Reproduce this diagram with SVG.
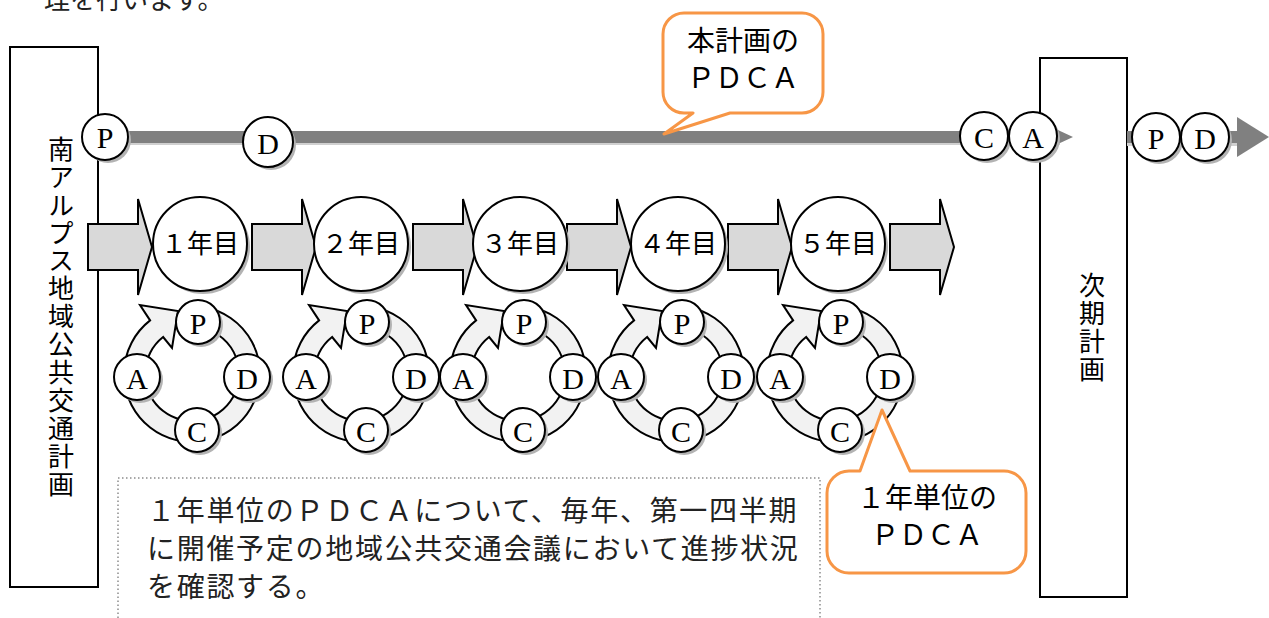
<svg xmlns="http://www.w3.org/2000/svg" width="1269" height="618" viewBox="0 0 1269 618">
<defs>
<style>
.box{fill:#fff;stroke:#000;stroke-width:2}
.vt{font-family:"Noto Sans CJK JP","Liberation Sans",sans-serif;font-size:26px;fill:#000;writing-mode:vertical-rl;letter-spacing:1.9px}
.sh{fill:#b3b3b3}
.cw{fill:#fff;stroke:#000;stroke-width:2}
.lt{font-family:"Liberation Serif","Noto Sans CJK JP",serif;font-size:30px;fill:#000;text-anchor:middle}
.yt{font-family:"Liberation Serif","Noto Sans CJK JP",serif;font-size:26px;fill:#000;text-anchor:middle}
.blk{fill:#d9d9d9;stroke:#000;stroke-width:2;stroke-linejoin:miter}
.ring{fill:#f2f2f2;stroke:#000;stroke-width:2;stroke-linejoin:miter}
.bub{fill:#fff;stroke:#F79646;stroke-width:3;stroke-linejoin:round}
.bt{font-family:"Liberation Serif","Noto Sans CJK JP",serif;font-size:28px;fill:#000;text-anchor:middle}
.body{font-family:"Noto Sans CJK JP","Liberation Sans",sans-serif;font-size:28px;fill:#222;letter-spacing:1.7px}
</style>
<path id="blockArrow" class="blk" d="M0,-23 H50 V-48 L64,0 L50,48 V23 H0 Z"/>
<path id="ringArrow" class="ring" d="M203.8,307 A68,68 0 1 1 150.1,320.4 L140,305 L178,311 L172,348 L163.1,337 A47,47 0 1 0 200.2,327.7 Z"/>
</defs>

<text x="44" y="9" style="font-family:'Noto Sans CJK JP',sans-serif;font-size:26px;fill:#222">理を行います。</text>

<g id="node-left-plan">
<rect class="box" x="10" y="47" width="88" height="540"/>
<text class="vt" x="61" y="136">南アルプス地域公共交通計画</text>
</g>

<g id="node-next-plan">
<rect class="box" x="1040" y="58" width="87" height="539"/>
<text class="vt" x="1092" y="272">次期計画</text>
</g>

<g id="connectors">
<rect x="98" y="142" width="962" height="3" fill="#d0d0d0"/>
<rect x="98" y="131" width="962" height="12" fill="#808080"/>
<path d="M1045,124 L1073,137 L1045,150 Z" fill="#808080"/>
<rect x="1127" y="143" width="112" height="3" fill="#d0d0d0"/>
<rect x="1127" y="131" width="112" height="12" fill="#808080"/>
<path d="M1237,117 L1269,137 L1237,157 Z" fill="#808080"/>
<use href="#blockArrow" x="88" y="247"/>
<use href="#blockArrow" x="252" y="247"/>
<use href="#blockArrow" x="413" y="247"/>
<use href="#blockArrow" x="567" y="247"/>
<use href="#blockArrow" x="728" y="247"/>
<use href="#blockArrow" x="890" y="247"/>
</g>

<g id="node-main-P"><circle class="sh" cx="108" cy="140" r="23"/><circle class="cw" cx="105" cy="137" r="23"/><text class="lt" x="105" y="148">P</text></g>
<g id="node-main-D"><circle class="sh" cx="271" cy="145" r="25"/><circle class="cw" cx="268" cy="142" r="25"/><text class="lt" x="268" y="154">D</text></g>
<g id="node-main-C"><circle class="sh" cx="987" cy="139" r="24"/><circle class="cw" cx="984" cy="136" r="24"/><text class="lt" x="984" y="148">C</text></g>
<g id="node-main-A"><circle class="sh" cx="1036" cy="139" r="24"/><circle class="cw" cx="1033" cy="136" r="24"/><text class="lt" x="1033" y="148">A</text></g>
<g id="node-next-P"><circle class="sh" cx="1159" cy="140" r="24"/><circle class="cw" cx="1156" cy="137" r="24"/><text class="lt" x="1156" y="149">P</text></g>
<g id="node-next-D"><circle class="sh" cx="1208" cy="140" r="24"/><circle class="cw" cx="1205" cy="137" r="24"/><text class="lt" x="1205" y="149">D</text></g>

<g id="node-year1"><circle class="sh" cx="203" cy="247" r="47"/><circle class="cw" cx="200" cy="244" r="47"/><text class="yt" x="200" y="253">１年目</text></g>
<g id="node-year2"><circle class="sh" cx="364" cy="247" r="47"/><circle class="cw" cx="361" cy="244" r="47"/><text class="yt" x="361" y="253">２年目</text></g>
<g id="node-year3"><circle class="sh" cx="523" cy="247" r="47"/><circle class="cw" cx="520" cy="244" r="47"/><text class="yt" x="520" y="253">３年目</text></g>
<g id="node-year4"><circle class="sh" cx="681" cy="247" r="47"/><circle class="cw" cx="678" cy="244" r="47"/><text class="yt" x="678" y="253">４年目</text></g>
<g id="node-year5"><circle class="sh" cx="841" cy="247" r="47"/><circle class="cw" cx="838" cy="244" r="47"/><text class="yt" x="838" y="253">５年目</text></g>

<g id="node-cycle1">
<use href="#ringArrow"/>
<g id="c1-P"><circle class="sh" cx="201" cy="325" r="22"/><circle class="cw" cx="198" cy="322" r="22"/><text class="lt" x="198" y="334">P</text></g>
<g id="c1-D"><circle class="sh" cx="250" cy="380" r="23"/><circle class="cw" cx="247" cy="377" r="23"/><text class="lt" x="247" y="389">D</text></g>
<g id="c1-C"><circle class="sh" cx="200" cy="433" r="22"/><circle class="cw" cx="197" cy="430" r="22"/><text class="lt" x="197" y="442">C</text></g>
<g id="c1-A"><circle class="sh" cx="140" cy="380" r="23"/><circle class="cw" cx="137" cy="377" r="23"/><text class="lt" x="137" y="389">A</text></g>
</g>
<g id="node-cycle2" transform="translate(169,0)">
<use href="#ringArrow"/>
<g id="c2-P"><circle class="sh" cx="201" cy="325" r="22"/><circle class="cw" cx="198" cy="322" r="22"/><text class="lt" x="198" y="334">P</text></g>
<g id="c2-D"><circle class="sh" cx="250" cy="380" r="23"/><circle class="cw" cx="247" cy="377" r="23"/><text class="lt" x="247" y="389">D</text></g>
<g id="c2-C"><circle class="sh" cx="200" cy="433" r="22"/><circle class="cw" cx="197" cy="430" r="22"/><text class="lt" x="197" y="442">C</text></g>
<g id="c2-A"><circle class="sh" cx="140" cy="380" r="23"/><circle class="cw" cx="137" cy="377" r="23"/><text class="lt" x="137" y="389">A</text></g>
</g>
<g id="node-cycle3" transform="translate(326,0)">
<use href="#ringArrow"/>
<g id="c3-P"><circle class="sh" cx="201" cy="325" r="22"/><circle class="cw" cx="198" cy="322" r="22"/><text class="lt" x="198" y="334">P</text></g>
<g id="c3-D"><circle class="sh" cx="250" cy="380" r="23"/><circle class="cw" cx="247" cy="377" r="23"/><text class="lt" x="247" y="389">D</text></g>
<g id="c3-C"><circle class="sh" cx="200" cy="433" r="22"/><circle class="cw" cx="197" cy="430" r="22"/><text class="lt" x="197" y="442">C</text></g>
<g id="c3-A"><circle class="sh" cx="140" cy="380" r="23"/><circle class="cw" cx="137" cy="377" r="23"/><text class="lt" x="137" y="389">A</text></g>
</g>
<g id="node-cycle4" transform="translate(484,0)">
<use href="#ringArrow"/>
<g id="c4-P"><circle class="sh" cx="201" cy="325" r="22"/><circle class="cw" cx="198" cy="322" r="22"/><text class="lt" x="198" y="334">P</text></g>
<g id="c4-D"><circle class="sh" cx="250" cy="380" r="23"/><circle class="cw" cx="247" cy="377" r="23"/><text class="lt" x="247" y="389">D</text></g>
<g id="c4-C"><circle class="sh" cx="200" cy="433" r="22"/><circle class="cw" cx="197" cy="430" r="22"/><text class="lt" x="197" y="442">C</text></g>
<g id="c4-A"><circle class="sh" cx="140" cy="380" r="23"/><circle class="cw" cx="137" cy="377" r="23"/><text class="lt" x="137" y="389">A</text></g>
</g>
<g id="node-cycle5" transform="translate(643,0)">
<use href="#ringArrow"/>
<g id="c5-P"><circle class="sh" cx="201" cy="325" r="22"/><circle class="cw" cx="198" cy="322" r="22"/><text class="lt" x="198" y="334">P</text></g>
<g id="c5-D"><circle class="sh" cx="250" cy="380" r="23"/><circle class="cw" cx="247" cy="377" r="23"/><text class="lt" x="247" y="389">D</text></g>
<g id="c5-C"><circle class="sh" cx="200" cy="433" r="22"/><circle class="cw" cx="197" cy="430" r="22"/><text class="lt" x="197" y="442">C</text></g>
<g id="c5-A"><circle class="sh" cx="140" cy="380" r="23"/><circle class="cw" cx="137" cy="377" r="23"/><text class="lt" x="137" y="389">A</text></g>
</g>

<g id="node-note">
<rect x="118" y="478" width="702" height="160" fill="#fff" stroke="#8c8c8c" stroke-width="1.5" stroke-dasharray="1.5,2.5"/>
<text class="body" x="147" y="521">１年単位のＰＤＣＡについて、毎年、第一四半期</text>
<text class="body" x="147" y="559">に開催予定の地域公共交通会議において進捗状況</text>
<text class="body" x="147" y="597">を確認する。</text>
</g>

<g id="node-bubble-plan">
<path class="bub" d="M684,13 H802 A21,21 0 0 1 823,34 V92 A21,21 0 0 1 802,113 H730 L664,134 L693,113 H684 A21,21 0 0 1 663,92 V34 A21,21 0 0 1 684,13 Z"/>
<text class="bt" x="743" y="51">本計画の</text>
<text class="bt" x="743" y="88">ＰＤＣＡ</text>
</g>

<g id="node-bubble-year">
<path class="bub" d="M849,471 H860 L882,410 L910,471 H1004 A22,22 0 0 1 1026,493 V551 A22,22 0 0 1 1004,573 H849 A22,22 0 0 1 827,551 V493 A22,22 0 0 1 849,471 Z"/>
<text class="bt" x="927" y="508">１年単位の</text>
<text class="bt" x="927" y="545">ＰＤＣＡ</text>
</g>
</svg>
